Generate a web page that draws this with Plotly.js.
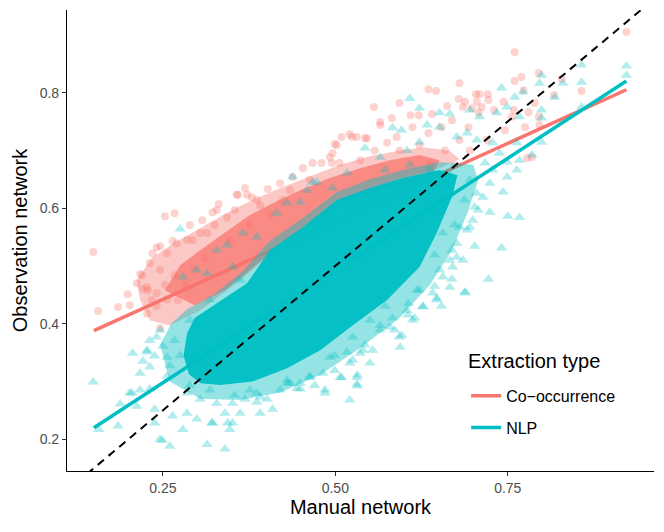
<!DOCTYPE html>
<html>
<head>
<meta charset="utf-8">
<script src="https://cdn.plot.ly/plotly-3.0.1.min.js"></script>
<style>
  body { margin: 0; background: #fff; }
  #graph { width: 664px; height: 532px; }
</style>
</head>
<body>
<div id="graph"></div>
<script>
// Co-occurrence points (the visible ones)
var coocX = [0.149,0.253,0.267,0.307,0.331,0.322,0.369,0.359,0.402,0.420,0.438,0.453,0.467,0.480,0.492,0.379,0.264,0.241,0.231,0.285,
  0.304,0.156,0.185,0.199,0.212,0.221,0.228,0.217,0.246,0.227,0.241,0.256,0.760,0.922,0.857,0.795,0.770,0.760,0.773,0.680,
  0.635,0.646,0.704,0.709,0.721,0.722,0.705,0.679,0.688,0.556,0.593,0.609,0.621,0.640,0.662,0.685,0.698,0.712,0.744,0.759,
  0.780,0.565,0.582,0.524,0.509,0.543,0.499,0.575,0.557,0.635,0.654,0.669,0.817,0.828,0.789,0.693,0.708,0.730,0.756,0.775,
  0.785,0.795,0.502,0.521,0.531,0.506,0.246,0.220,0.270,0.293,0.256,0.235,0.227,0.241,0.496,0.424,0.386,0.343,0.314,0.372,
  0.357,0.328,0.495,0.546,0.565,0.612,0.589,0.720,0.778,0.796,0.536,0.593,0.622,0.659,0.680,0.746,0.637,0.673,0.695,0.267,
  0.282,0.253,0.272,0.296,0.246,0.234,0.202,0.289,0.325,0.354,0.391,0.434,0.463,0.405,0.347,0.376,0.311];
var coocY = [0.524,0.586,0.591,0.579,0.607,0.593,0.635,0.623,0.633,0.643,0.654,0.669,0.678,0.678,0.688,0.619,0.543,0.532,0.505,0.545,
  0.557,0.422,0.429,0.451,0.470,0.460,0.458,0.486,0.392,0.417,0.430,0.442,0.870,0.905,0.803,0.834,0.827,0.820,0.804,0.816,
  0.806,0.803,0.797,0.797,0.797,0.787,0.784,0.789,0.784,0.775,0.782,0.761,0.761,0.763,0.777,0.775,0.773,0.775,0.784,0.770,
  0.766,0.749,0.756,0.723,0.723,0.721,0.711,0.713,0.700,0.730,0.740,0.752,0.796,0.823,0.782,0.740,0.765,0.770,0.758,0.740,
  0.688,0.758,0.709,0.728,0.723,0.678,0.534,0.484,0.539,0.545,0.522,0.522,0.463,0.453,0.695,0.614,0.614,0.584,0.557,0.623,
  0.623,0.597,0.678,0.721,0.744,0.740,0.723,0.718,0.687,0.744,0.683,0.700,0.709,0.700,0.718,0.735,0.675,0.675,0.700,0.484,
  0.467,0.467,0.441,0.493,0.493,0.441,0.432,0.571,0.571,0.597,0.605,0.631,0.649,0.588,0.545,0.571,0.513];

// NLP points
var nlpX = [0.149,0.157,0.185,0.206,0.221,0.238,0.227,0.250,0.217,0.205,0.188,0.212,0.238,0.260,0.246,0.279,0.314,0.340,0.322,0.347,
  0.351,0.369,0.386,0.401,0.409,0.434,0.449,0.463,0.485,0.264,0.285,0.299,0.304,0.328,0.285,0.256,0.231,0.238,0.249,0.321,
  0.344,0.340,0.362,0.391,0.386,0.430,0.444,0.521,0.532,0.509,0.550,0.531,0.594,0.596,0.565,0.583,0.550,0.482,0.463,0.492,
  0.517,0.724,0.750,0.767,0.702,0.741,0.722,0.688,0.647,0.627,0.615,0.605,0.579,0.565,0.540,0.532,0.525,0.499,0.666,0.670,
  0.685,0.656,0.641,0.699,0.707,0.676,0.531,0.572,0.606,0.644,0.654,0.669,0.922,0.857,0.799,0.796,0.818,0.857,0.830,0.741,
  0.772,0.760,0.608,0.622,0.651,0.666,0.734,0.749,0.767,0.799,0.799,0.695,0.709,0.583,0.596,0.633,0.651,0.676,0.691,0.705,
  0.728,0.763,0.785,0.799,0.767,0.749,0.738,0.763,0.749,0.728,0.717,0.724,0.743,0.714,0.702,0.705,0.695,0.680,0.669,0.656,
  0.543,0.565,0.604,0.622,0.275,0.438,0.467,0.343,0.328,0.366,0.386,0.430,0.449,0.459,0.473,0.496,0.517,0.279,0.299,0.314,
  0.351,0.362,0.415,0.267,0.275,0.260,0.289,0.318,0.354,0.376,0.420,0.470,0.499,0.543,0.586,0.622,0.644,0.673,0.687,0.666,
  0.695,0.637,0.608,0.572,0.246,0.231,0.318,0.289,0.922,0.857,0.688,0.647,0.627,0.612,0.593,0.554,0.536,0.521,0.507,0.485,
  0.449,0.430,0.391,0.351,0.231,0.227,0.241,0.217,0.202,0.256,0.651,0.666,0.676,0.691,0.618,0.604,0.525];
var nlpY = [0.299,0.217,0.223,0.349,0.335,0.344,0.351,0.361,0.314,0.280,0.261,0.257,0.252,0.188,0.200,0.217,0.191,0.183,0.228,0.217,
  0.228,0.269,0.280,0.269,0.252,0.297,0.287,0.309,0.280,0.240,0.245,0.235,0.269,0.262,0.280,0.309,0.287,0.228,0.198,0.228,
  0.228,0.245,0.245,0.245,0.264,0.297,0.288,0.268,0.292,0.307,0.332,0.307,0.359,0.380,0.389,0.410,0.406,0.314,0.307,0.342,
  0.351,0.593,0.586,0.584,0.534,0.531,0.477,0.455,0.444,0.430,0.410,0.415,0.394,0.397,0.354,0.311,0.337,0.345,0.463,0.498,
  0.510,0.481,0.453,0.579,0.597,0.515,0.295,0.430,0.435,0.465,0.430,0.477,0.830,0.818,0.830,0.816,0.792,0.775,0.816,0.808,
  0.801,0.792,0.790,0.773,0.765,0.763,0.765,0.775,0.758,0.770,0.756,0.770,0.758,0.739,0.735,0.744,0.740,0.723,0.730,0.718,
  0.713,0.713,0.692,0.714,0.683,0.680,0.695,0.666,0.654,0.666,0.678,0.643,0.628,0.619,0.602,0.626,0.567,0.567,0.527,0.557,
  0.704,0.688,0.700,0.714,0.564,0.654,0.645,0.536,0.527,0.557,0.550,0.609,0.610,0.631,0.645,0.635,0.661,0.481,0.493,0.487,
  0.498,0.475,0.591,0.371,0.345,0.327,0.293,0.285,0.276,0.285,0.285,0.293,0.319,0.363,0.389,0.458,0.519,0.571,0.614,0.657,
  0.649,0.666,0.675,0.666,0.389,0.371,0.441,0.406,0.846,0.848,0.453,0.441,0.429,0.406,0.377,0.354,0.349,0.332,0.307,0.285,
  0.297,0.302,0.273,0.262,0.325,0.354,0.377,0.285,0.280,0.342,0.493,0.510,0.539,0.562,0.458,0.423,0.377];

// outlines of the crowded parts of each cloud, where single points can no longer be told apart
// (outer = clearly overlapping, inner = saturated)
var coocOuterX = [0.217,0.212,0.235,0.267,0.304,0.340,0.376,0.420,0.463,0.507,0.550,0.593,0.630,0.665,0.680,0.651,0.593,0.536,0.478,0.420,0.362,0.304,0.260,0.231];
var coocOuterY = [0.441,0.475,0.515,0.540,0.565,0.590,0.612,0.635,0.655,0.675,0.690,0.700,0.705,0.700,0.685,0.669,0.652,0.628,0.588,0.536,0.475,0.423,0.397,0.406];
var coocInnerX = [0.253,0.275,0.304,0.340,0.376,0.412,0.449,0.492,0.536,0.579,0.622,0.651,0.637,0.565,0.507,0.449,0.391,0.340,0.296];
var coocInnerY = [0.458,0.501,0.527,0.558,0.588,0.610,0.631,0.652,0.669,0.683,0.692,0.683,0.648,0.631,0.605,0.558,0.507,0.458,0.432];
var nlpOuterX = [0.246,0.260,0.304,0.362,0.420,0.478,0.536,0.593,0.637,0.669,0.692,0.707,0.700,0.651,0.598,0.550,0.502,0.453,0.405,0.365,0.320,0.285,0.262];
var nlpOuterY = [0.363,0.300,0.270,0.268,0.281,0.311,0.358,0.410,0.467,0.527,0.593,0.648,0.675,0.680,0.666,0.650,0.628,0.583,0.543,0.490,0.447,0.425,0.400];
var nlpInnerX = [0.285,0.280,0.288,0.305,0.333,0.380,0.430,0.478,0.525,0.575,0.622,0.647,0.670,0.677,0.651,0.598,0.550,0.502,0.453,0.405,0.372,0.325,0.296];
var nlpInnerY = [0.383,0.345,0.312,0.297,0.294,0.300,0.323,0.354,0.397,0.441,0.498,0.557,0.622,0.657,0.666,0.652,0.635,0.614,0.567,0.527,0.470,0.432,0.410];

// linear fits and the 1:1 line
var fitX = [0.15, 0.922];
var coocFit = [0.388, 0.805];
var nlpFit = [0.220, 0.820];
var refX = [0.0, 1.0];
var refY = [0.0, 1.0];

var red = '#F8766D', teal = '#00BFC4';

function area(x, y, fill) {
  return {x: x, y: y, mode: 'lines', fill: 'toself', fillcolor: fill,
          line: {width: 0}, hoverinfo: 'skip', showlegend: false};
}

var traces = [
  {x: fitX, y: coocFit, mode: 'lines', name: 'Co\u2212occurrence', legendgroup: 'a',
   line: {color: red, width: 3.5}},
  {x: fitX, y: nlpFit, mode: 'lines', name: 'NLP', legendgroup: 'b',
   line: {color: teal, width: 3.5}},
  area(coocOuterX, coocOuterY, 'rgba(248,118,109,0.4)'),
  area(coocInnerX, coocInnerY, 'rgba(248,118,109,0.75)'),
  {x: coocX, y: coocY, mode: 'markers', showlegend: false,
   marker: {symbol: 'circle', size: 8, color: red, opacity: 0.32}},
  area(nlpOuterX, nlpOuterY, 'rgba(0,191,196,0.42)'),
  area(nlpInnerX, nlpInnerY, 'rgba(0,191,196,0.97)'),
  {x: nlpX, y: nlpY, mode: 'markers', showlegend: false,
   marker: {symbol: 'triangle-up', size: 10, color: teal, opacity: 0.3}},
  {x: refX, y: refY, mode: 'lines', showlegend: false,
   line: {color: 'black', width: 2, dash: '8px,6px'}}
];

var axisStyle = {
  showgrid: false, zeroline: false, showline: true, linecolor: 'black', linewidth: 1.1,
  ticks: 'outside', ticklen: 4, tickcolor: '#333', tickwidth: 1,
  tickfont: {size: 14, color: '#4D4D4D'}
};

var layout = {
  width: 664, height: 532,
  margin: {l: 67, r: 10, t: 10, b: 61},
  paper_bgcolor: 'white', plot_bgcolor: 'white',
  font: {family: 'Liberation Sans, Arial, sans-serif', color: 'black'},
  xaxis: Object.assign({}, axisStyle, {
    range: [0.111, 0.962], tickvals: [0.25, 0.5, 0.75], ticktext: ['0.25', '0.50', '0.75'],
    title: {text: 'Manual network', font: {size: 20}, standoff: 4}
  }),
  yaxis: Object.assign({}, axisStyle, {
    range: [0.145, 0.943], tickvals: [0.2, 0.4, 0.6, 0.8], ticktext: ['0.2', '0.4', '0.6', '0.8'],
    title: {text: 'Observation network', font: {size: 20}, standoff: 6}
  }),
  legend: {
    x: 0.68, y: 0.2, xanchor: 'left', yanchor: 'top',
    bgcolor: 'rgba(0,0,0,0)', tracegroupgap: 8, itemwidth: 30,
    font: {size: 16}
  },
  annotations: [{
    text: 'Extraction type', xref: 'paper', yref: 'paper', x: 0.68, y: 0.239,
    xanchor: 'left', yanchor: 'middle', showarrow: false, font: {size: 20}
  }],
  showlegend: true
};

Plotly.newPlot('graph', traces, layout, {displayModeBar: false, staticPlot: true});
</script>
</body>
</html>
